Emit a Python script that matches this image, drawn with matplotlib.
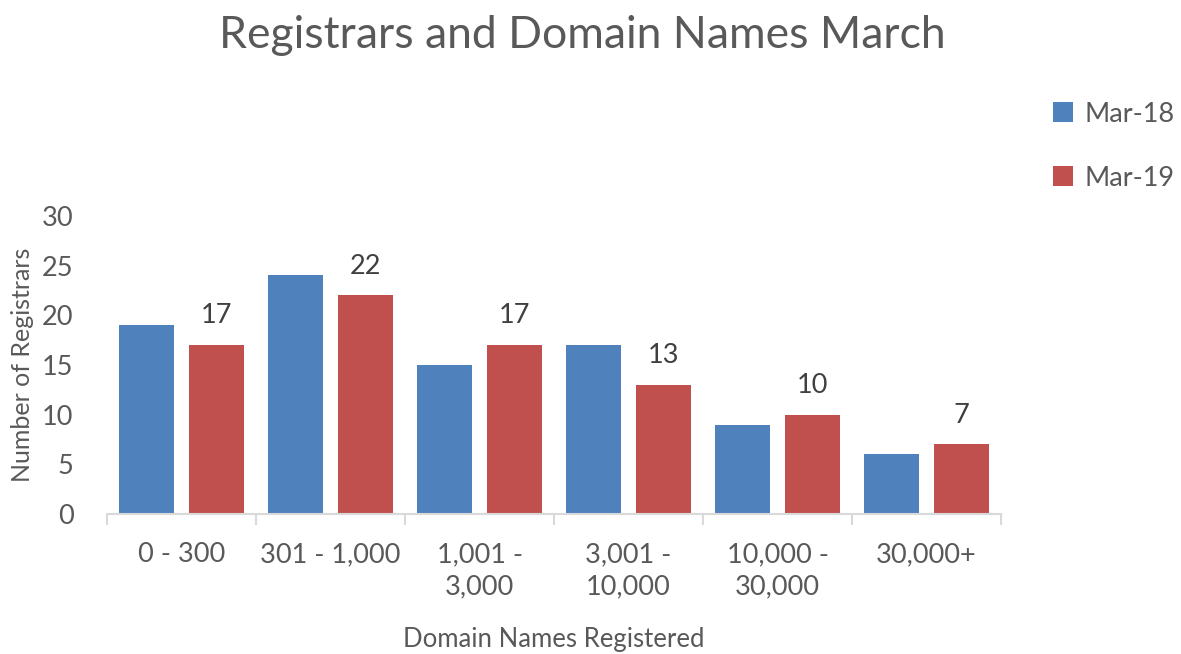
import matplotlib
matplotlib.use('agg')
import matplotlib.pyplot as plt
import numpy as np

categories = ['0 - 300', '301 - 1,000', '1,001 -\n3,000', '3,001 -\n10,000', '10,000 -\n30,000', '30,000+']
mar18 = [19, 24, 15, 17, 9, 6]
mar19 = [17, 22, 17, 13, 10, 7]
yticks = [0, 5, 10, 15, 20, 25, 30]

plt.rcParams['font.family'] = ['Lato', 'DejaVu Sans']
grey = '#595959'

fig = plt.figure(figsize=(11.81, 6.54), dpi=100)
ax = fig.add_axes([0.0906, 0.214, 0.757, 0.456])

x = np.arange(len(categories))
w = 0.375
off = 0.235
ax.bar(x - off, mar18, w, color='#4F81BD', label='Mar-18')
b2 = ax.bar(x + off, mar19, w, color='#C0504D', label='Mar-19')
ax.bar_label(b2, padding=12, fontsize=19.5, color='#404040')

ax.set_xlim(-0.5, len(categories) - 0.5)
ax.set_ylim(0, 30)
ax.set_yticks(yticks)
ax.tick_params(axis='y', length=0, pad=24, labelsize=19.5, labelcolor=grey)

# categories labelled at centres, tick marks at the boundaries
ax.set_xticks(x)
ax.set_xticklabels(categories, fontsize=19.5, color=grey, linespacing=1.35)
ax.set_xticks(np.arange(len(categories) + 1) - 0.5, minor=True)
ax.tick_params(axis='x', which='major', length=0, pad=20)
ax.tick_params(axis='x', which='minor', length=8, width=1.5, color='#D9D9D9', direction='out')

for s in ['top', 'right', 'left']:
    ax.spines[s].set_visible(False)
ax.spines['bottom'].set_color('#D9D9D9')
ax.spines['bottom'].set_linewidth(1.5)

ax.set_xlabel('Domain Names Registered', fontsize=18.5, color=grey, labelpad=20)
ax.set_ylabel('Number of Registrars', fontsize=18, color=grey, labelpad=6)

fig.suptitle('Registrars and Domain Names March', fontsize=32, color=grey, x=0.493, y=0.977)

fig.legend(loc='upper left', bbox_to_anchor=(0.871, 0.882), frameon=False,
           fontsize=19.5, labelcolor=grey, handlelength=0.75, handleheight=0.75,
           handletextpad=0.4, labelspacing=1.45)

plt.savefig('out.png', dpi=100)
